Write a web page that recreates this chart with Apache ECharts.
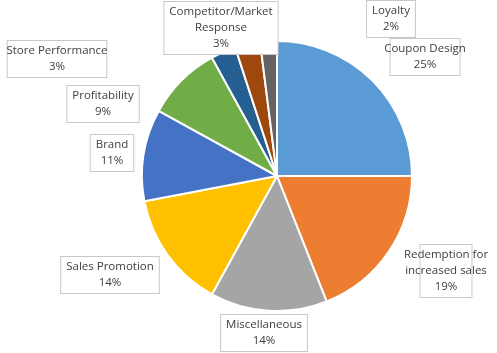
<!DOCTYPE html>
<html>
<head>
<meta charset="utf-8">
<script src="https://cdn.jsdelivr.net/npm/echarts@6/dist/echarts.min.js"></script>
<style>
  html, body { margin: 0; padding: 0; background: #fff; }
  #pie_chart { width: 497px; height: 353px; }
</style>
</head>
<body>
<div id="pie_chart"></div>
<script>
  // slice order clockwise from 12 o'clock
  const categories = ['Coupon Design', 'Redemption for\nincreased sales', 'Miscellaneous', 'Sales Promotion',
    'Brand', 'Profitability', 'Store Performance', 'Competitor/Market\nResponse', 'Loyalty'];
  const shares = [25, 19, 14, 14, 11, 9, 3, 3, 2];
  const colors = ['#5b9bd5', '#ed7d31', '#a5a5a5', '#ffc000', '#4472c4', '#70ad47', '#255e91', '#9e480e', '#636363'];

  // where the label boxes sit (centre of each box)
  const labelSpots = [[425, 57], [446, 271], [264, 333], [110, 275], [112, 153], [103, 104], [57, 59], [221, 28], [391, 19]];

  let chart = echarts.init(document.getElementById('pie_chart'));

  let option = {
    animation: false,
    series: [{
      type: 'pie',
      center: [277, 176],
      radius: 135,
      startAngle: 90,
      clockwise: true,
      data: categories.map((c, i) => ({
        name: c,
        value: shares[i],
        itemStyle: { color: colors[i] }
      })),
      itemStyle: {
        borderColor: '#fff',
        borderWidth: 2
      },
      label: {
        show: true,
        formatter: '{b}\n{c}%',
        fontFamily: 'Open Sans',
        fontSize: 11.5,
        lineHeight: 16,
        color: '#404040',
        align: 'center',
        overflow: 'none',
        backgroundColor: '#fff',
        borderColor: '#c8c8c8',
        borderWidth: 1,
        padding: [2, 5]
      },
      labelLine: { show: false },
      labelLayout: function (params) {
        let p = labelSpots[params.dataIndex];
        return { x: p[0], y: p[1], align: 'center', verticalAlign: 'middle' };
      },
      emphasis: { disabled: true }
    }]
  };
  chart.setOption(option);
</script>
</body>
</html>
